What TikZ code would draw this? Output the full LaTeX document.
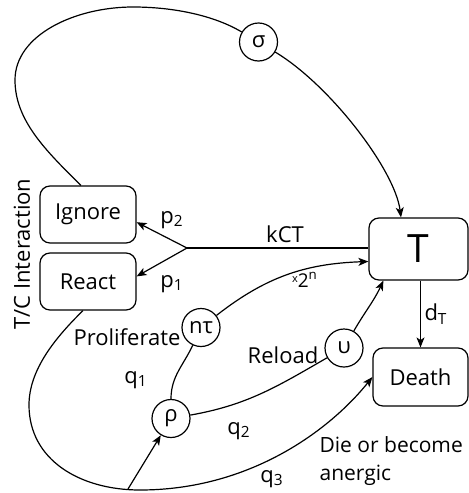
\documentclass[tikz,border=0pt]{standalone}
\usepackage{fontspec}
\setmainfont{Open Sans}
\usetikzlibrary{arrows.meta}

\begin{document}
\begin{tikzpicture}[x=0.5pt,y=-0.5pt,line width=0.6pt,>={Stealth[length=5pt,width=4pt,inset=1.3pt]}]
\tikzstyle{box}=[rectangle,rounded corners=5pt,draw=black,minimum width=48pt,minimum height=28.5pt,font=\fontsize{11}{13}\selectfont]
\tikzstyle{rate}=[circle,draw=black,minimum size=19pt,inner sep=0pt,font=\fontsize{11}{13}\selectfont]
\tikzstyle{lbl}=[inner sep=0pt,font=\fontsize{11}{13}\selectfont]
\useasboundingbox (0,0) rectangle (469,493);
\node (ignore) [box] at (88,214.5) {Ignore};
\node (react) [box] at (88,281.5) {React};
\node (T) [box,minimum width=49.5pt,minimum height=31pt,font=\fontsize{19.5}{22}\selectfont] at (418.5,249) {T};
\node (death) [box,minimum width=47.5pt,minimum height=29pt] at (420.5,377) {Death};
\node (sigma) [rate] at (258.5,42) {σ};
\node (ntau) [rate] at (201,327.5) {nτ};
\node (upsilon) [rate] at (344,348) {υ};
\node (rho) [rate] at (171,418.5) {ρ};
\coordinate (split) at (187,248);
\coordinate (fork) at (128,489);
% T/C interaction
\draw (split) -- (split -| T.west);
\draw[->] (split) -- (ignore.-9);
\draw[->] (split) -- (react.6);
% ignore loop
\draw ([xshift=-3.5pt]ignore.north) .. controls (45,150) and (15,120) .. (15,80) .. controls (15,35) and (75,7) .. (133,7) .. controls (175,7) and (215,16) .. (sigma);
\draw[->] (sigma) .. controls (330,85) and (395,170) .. ([xshift=-8.75pt]T.north);
% react loop
\draw[->] ([xshift=-2.5pt]react.south) .. controls (55,338) and (29,370) .. (29,405) .. controls (29,460) and (80,490) .. (140,490) .. controls (250,490) and (330,430) .. (death.west);
\draw[->] (fork) -- (rho);
\draw (rho) to[out=90,in=245] (ntau);
\draw[->] (ntau) to[out=38,in=182] (T.194);
\draw (rho) to[out=10,in=210] (upsilon);
\draw[->] (upsilon) to[out=60,in=245] (T.222);
\draw[->] (T.south -| death.north) -- (death.north);
% labels
\node (tc) [lbl,rotate=90] at (22,254) {T/C Interaction};
\node (p2) [lbl] at (172,220) {p\textsubscript{2}};
\node (p1) [lbl] at (172,284) {p\textsubscript{1}};
\node (kct) [lbl] at (285,234) {kCT};
\node (dbl) [lbl,font=\fontsize{9.5}{11}\selectfont] at (305,280) {\raisebox{.5ex}{\fontsize{5.5}{6}\selectfont x}2\textsuperscript{n}};
\node (prolif) [lbl,anchor=east] at (181,337) {Proliferate};
\node (q1) [lbl] at (136,380) {q\textsubscript{1}};
\node (reload) [lbl] at (283,355) {Reload};
\node (q2) [lbl] at (239,431) {q\textsubscript{2}};
\node (q3) [lbl] at (272,479) {q\textsubscript{3}};
\node (die) [lbl,anchor=west,align=left,font=\fontsize{10.5}{14}\selectfont] at (319,461) {Die or become\\anergic};
\node (dt) [lbl] at (436,314) {d\textsubscript{T}};
\end{tikzpicture}
\end{document}
